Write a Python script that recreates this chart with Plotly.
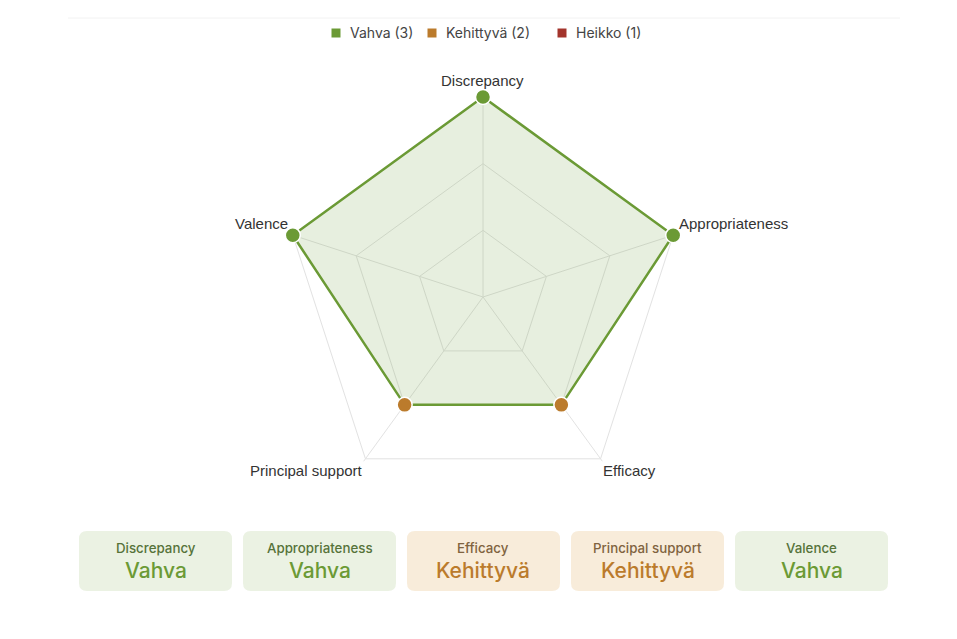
import math
import plotly.graph_objects as go

# ---- data ----
dimensions = ["Discrepancy", "Appropriateness", "Efficacy", "Principal support", "Valence"]
scores = [3, 3, 2, 2, 3]
legend_levels = [3, 2, 1]
level_names = {3: "Vahva", 2: "Kehittyvä", 1: "Heikko"}
level_counts = {3: 3, 2: 2, 1: 1}
level_colors = {3: "#6b9a35", 2: "#bb7b2c", 1: "#a3342c"}
card_fill = {3: "#ebf2e3", 2: "#f8ecda", 1: "#f6e0de"}
card_label_color = {3: "#56733a", 2: "#80633f", 1: "#7a3a34"}

# ---- layout constants ----
W, H = 957, 639
cx, cy, R = 483, 297, 200
RMAX = 3
K = 1.015            # small headroom so the outer polygon stroke is not clipped
RD = R * K           # domain radius in px
px = lambda v: v / W
py = lambda v: 1 - v / H

fig = go.Figure()

r_closed = scores + scores[:1]
th_closed = dimensions + dimensions[:1]

fig.add_trace(go.Scatterpolar(
    r=r_closed, theta=th_closed, mode="lines", fill="toself",
    fillcolor="rgba(107,154,53,0.16)",
    line=dict(color="#6b9a35", width=2.5),
    showlegend=False, hoverinfo="skip"))
fig.add_trace(go.Scatterpolar(
    r=scores, theta=dimensions, mode="markers", cliponaxis=False,
    marker=dict(size=15, color=[level_colors[s] for s in scores],
                line=dict(color="white", width=1.5)),
    showlegend=False, hoverinfo="skip"))

fig.update_layout(
    width=W, height=H,
    margin=dict(l=0, r=0, t=0, b=0),
    paper_bgcolor="white",
    showlegend=False,
    font=dict(family="Inter, Liberation Sans, Arial", color="#444"),
    polar=dict(
        domain=dict(x=[px(cx - RD), px(cx + RD)], y=[py(cy + RD), py(cy - RD)]),
        bgcolor="white",
        gridshape="linear",
        radialaxis=dict(range=[0, RMAX * K], tickvals=[1, 2, 3], showticklabels=False,
                        showline=False, gridcolor="#e2e2e2", gridwidth=1, ticks="",
                        layer="below traces"),
        angularaxis=dict(rotation=90, direction="clockwise", showticklabels=False,
                         gridcolor="#e2e2e2", showline=False, ticks="",
                         layer="below traces"),
    ),
)

shapes = []
annotations = []

# axis labels around the pentagon
n = len(dimensions)
for i, dim in enumerate(dimensions):
    ang = 2 * math.pi * i / n
    vx = cx + R * math.sin(ang)
    vy = cy - R * math.cos(ang)
    s, c = math.sin(ang), math.cos(ang)
    if abs(s) < 1e-6:
        xa, dx, dy = "center", 0, -17
    else:
        xa = "left" if s > 0 else "right"
        if c > 0:
            dx = 4 if s > 0 else -3
            dy = -12
        else:
            dx = 0
            dy = 12
    annotations.append(dict(x=px(vx + dx), y=py(vy + dy), xref="paper", yref="paper",
                            text=dim, showarrow=False, xanchor=xa, yanchor="middle",
                            font=dict(family="Liberation Sans, Arial", size=15, color="#333")))

# faint top divider
shapes.append(dict(type="line", xref="paper", yref="paper",
                   x0=px(68), x1=px(900), y0=py(18), y1=py(18),
                   line=dict(color="#f2f2f2", width=1)))

# custom legend
legend_sq_x = [336, 432, 562]
legend_y = 33
for lv, sx in zip(legend_levels, legend_sq_x):
    hs = 4.5
    shapes.append(dict(type="rect", xref="paper", yref="paper",
                       x0=px(sx - hs), x1=px(sx + hs), y0=py(legend_y + hs), y1=py(legend_y - hs),
                       fillcolor=level_colors[lv], line=dict(width=0)))
    annotations.append(dict(x=px(sx + hs + 7), y=py(legend_y), xref="paper", yref="paper",
                            text=f"{level_names[lv]} ({level_counts[lv]})", showarrow=False,
                            xanchor="left", yanchor="middle",
                            font=dict(family="Inter", size=14, color="#444")))

# cards
card_w, card_gap, card_x0 = 153, 11, 79
card_top, card_bot = 531, 591
rad = 8
for i, (dim, s) in enumerate(zip(dimensions, scores)):
    x0 = card_x0 + i * (card_w + card_gap)
    x1 = x0 + card_w
    path = (f"M {px(x0 + rad)},{py(card_top)} L {px(x1 - rad)},{py(card_top)} "
            f"Q {px(x1)},{py(card_top)} {px(x1)},{py(card_top + rad)} "
            f"L {px(x1)},{py(card_bot - rad)} Q {px(x1)},{py(card_bot)} {px(x1 - rad)},{py(card_bot)} "
            f"L {px(x0 + rad)},{py(card_bot)} Q {px(x0)},{py(card_bot)} {px(x0)},{py(card_bot - rad)} "
            f"L {px(x0)},{py(card_top + rad)} Q {px(x0)},{py(card_top)} {px(x0 + rad)},{py(card_top)} Z")
    shapes.append(dict(type="path", xref="paper", yref="paper", path=path,
                       fillcolor=card_fill[s], line=dict(width=0), layer="below"))
    xc = px((x0 + x1) / 2)
    annotations.append(dict(x=xc, y=py(548), xref="paper", yref="paper", text=dim,
                            showarrow=False,
                            font=dict(family="Inter", size=13.3, weight=500, color=card_label_color[s]),
                            xanchor="center", yanchor="middle"))
    annotations.append(dict(x=xc, y=py(570), xref="paper", yref="paper", text=level_names[s],
                            showarrow=False,
                            font=dict(family="Inter", size=21, weight=500, color=level_colors[s]),
                            xanchor="center", yanchor="middle"))

fig.update_layout(shapes=shapes, annotations=annotations)
fig.write_html("out.html")
